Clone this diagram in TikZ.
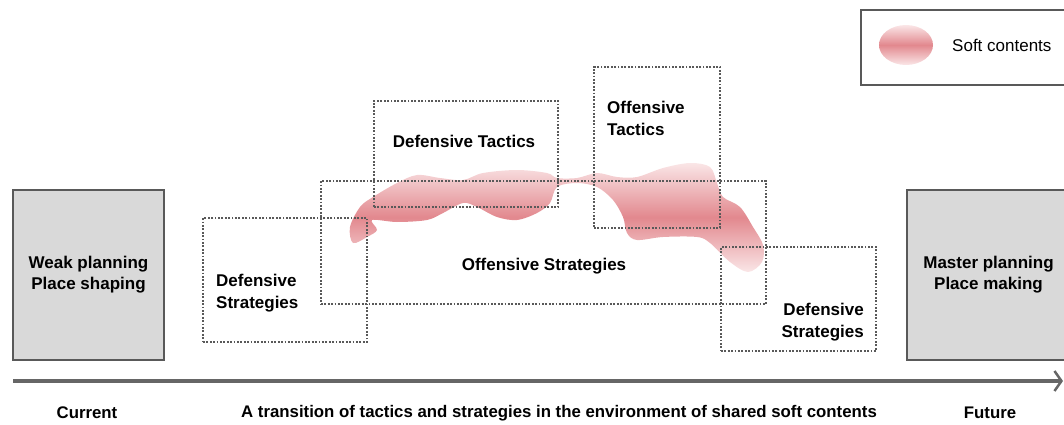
\documentclass[tikz,border=0pt]{standalone}
\usepackage{fontspec}
\setmainfont{Liberation Sans}
\usetikzlibrary{arrows.meta,positioning,shapes.geometric}

\begin{document}
\begin{tikzpicture}[x=1pt,y=-1pt,
        caja/.style={draw=borde,line width=1.8pt,fill=black!15,inner sep=0pt},
        punteado/.style={draw=black!65,line width=1.8pt,dash pattern=on 1.8pt off 1.6pt,inner sep=0pt},
        rotulo/.style={font=\fontsize{17}{22}\selectfont\bfseries,align=center,inner sep=0pt},
        pie/.style={font=\fontsize{16.8}{20}\selectfont\bfseries,inner sep=0pt}]
        %colores
        \colorlet{borde}{black!65}
        \definecolor{suave}{RGB}{226,136,142}
        \definecolor{claro}{RGB}{250,230,231}

        \clip (0,0) rectangle (1064,425);

        % Contenido suave
        \shade[top color=claro,bottom color=claro,middle color=suave]
            plot[smooth cycle,tension=0.55] coordinates {
            (350,227) (360,207) (373,197) (397,183) (417,175) (440,178) (463,180)
            (483,173) (517,170) (547,173) (557,178) (577,178) (597,173) (617,177)
            (637,177) (663,168) (690,163) (710,167) (717,183) (723,197) (740,207)
            (753,227) (763,245) (762,262) (748,272) (730,262) (710,243) (697,237)
            (663,237) (637,240) (627,233) (623,217) (613,200) (597,187) (577,183)
            (557,187) (550,203) (537,213) (517,220) (497,217) (477,207) (463,203)
            (443,213) (427,220) (397,222) (372,220) (377,230) (367,237) (353,243)};

        % Cajas punteadas
        \node[punteado,minimum width=164,minimum height=124] (defestizq) at (285,280) {};
        \node[punteado,minimum width=445,minimum height=123] (ofest) at (543.5,242.5) {};
        \node[punteado,minimum width=184,minimum height=106] (deftac) at (466,154) {};
        \node[punteado,minimum width=126,minimum height=161] (oftac) at (657,147.5) {};
        \node[punteado,minimum width=155,minimum height=104] (defestder) at (798.5,299) {};

        % Textos de las cajas
        \node[rotulo] (tdeftac) at (464,141) {Defensive Tactics};
        \node[rotulo,align=left,anchor=west] (toftac) at (607,118) {Offensive\\Tactics};
        \node[rotulo] (tofest) at (544,266) {Offensive Strategies};
        \node[rotulo,align=left,anchor=west] (tdefizq) at (216,293) {Defensive\\Strategies};
        \node[rotulo,align=right,anchor=east] (tdefder) at (864,322) {Defensive\\Strategies};

        % Estados extremos
        \node[caja,rotulo,minimum width=151,minimum height=170] (debil) at (88.5,275)
            {\raisebox{-3pt}{\shortstack{Weak planning\\[2pt]Place shaping}}};
        \node[caja,rotulo,minimum width=163,minimum height=170] (maestro) at (988.5,275)
            {\raisebox{-3pt}{\shortstack{Master planning\\[2pt]Place making}}};

        % Leyenda
        \node[draw=borde,line width=1.2pt,minimum width=212,minimum height=75] (leyenda) at (967,47.5) {};
        \node[ellipse,minimum width=54,minimum height=40,inner sep=0pt,
            top color=claro,bottom color=claro,middle color=suave] (muestra) at (906,45) {};
        \node[font=\fontsize{17}{20}\selectfont,anchor=west,inner sep=0pt] (tsuave) at (952,45) {Soft contents};

        % Eje del tiempo
        \coordinate (ini) at (13,381);
        \coordinate (fin) at (1063,381);
        \draw[black!60,line width=3.5pt,-{Straight Barb[length=7pt,width=20pt,line width=2.5pt]}] (ini) -- (fin);

        \node[pie] (actual) at (87,413) {Current};
        \node[pie] (transicion) at (559,413)
            {A transition of tactics and strategies in the environment of shared soft contents};
        \node[pie] (futuro) at (990,413) {Future};
\end{tikzpicture}
\end{document}
